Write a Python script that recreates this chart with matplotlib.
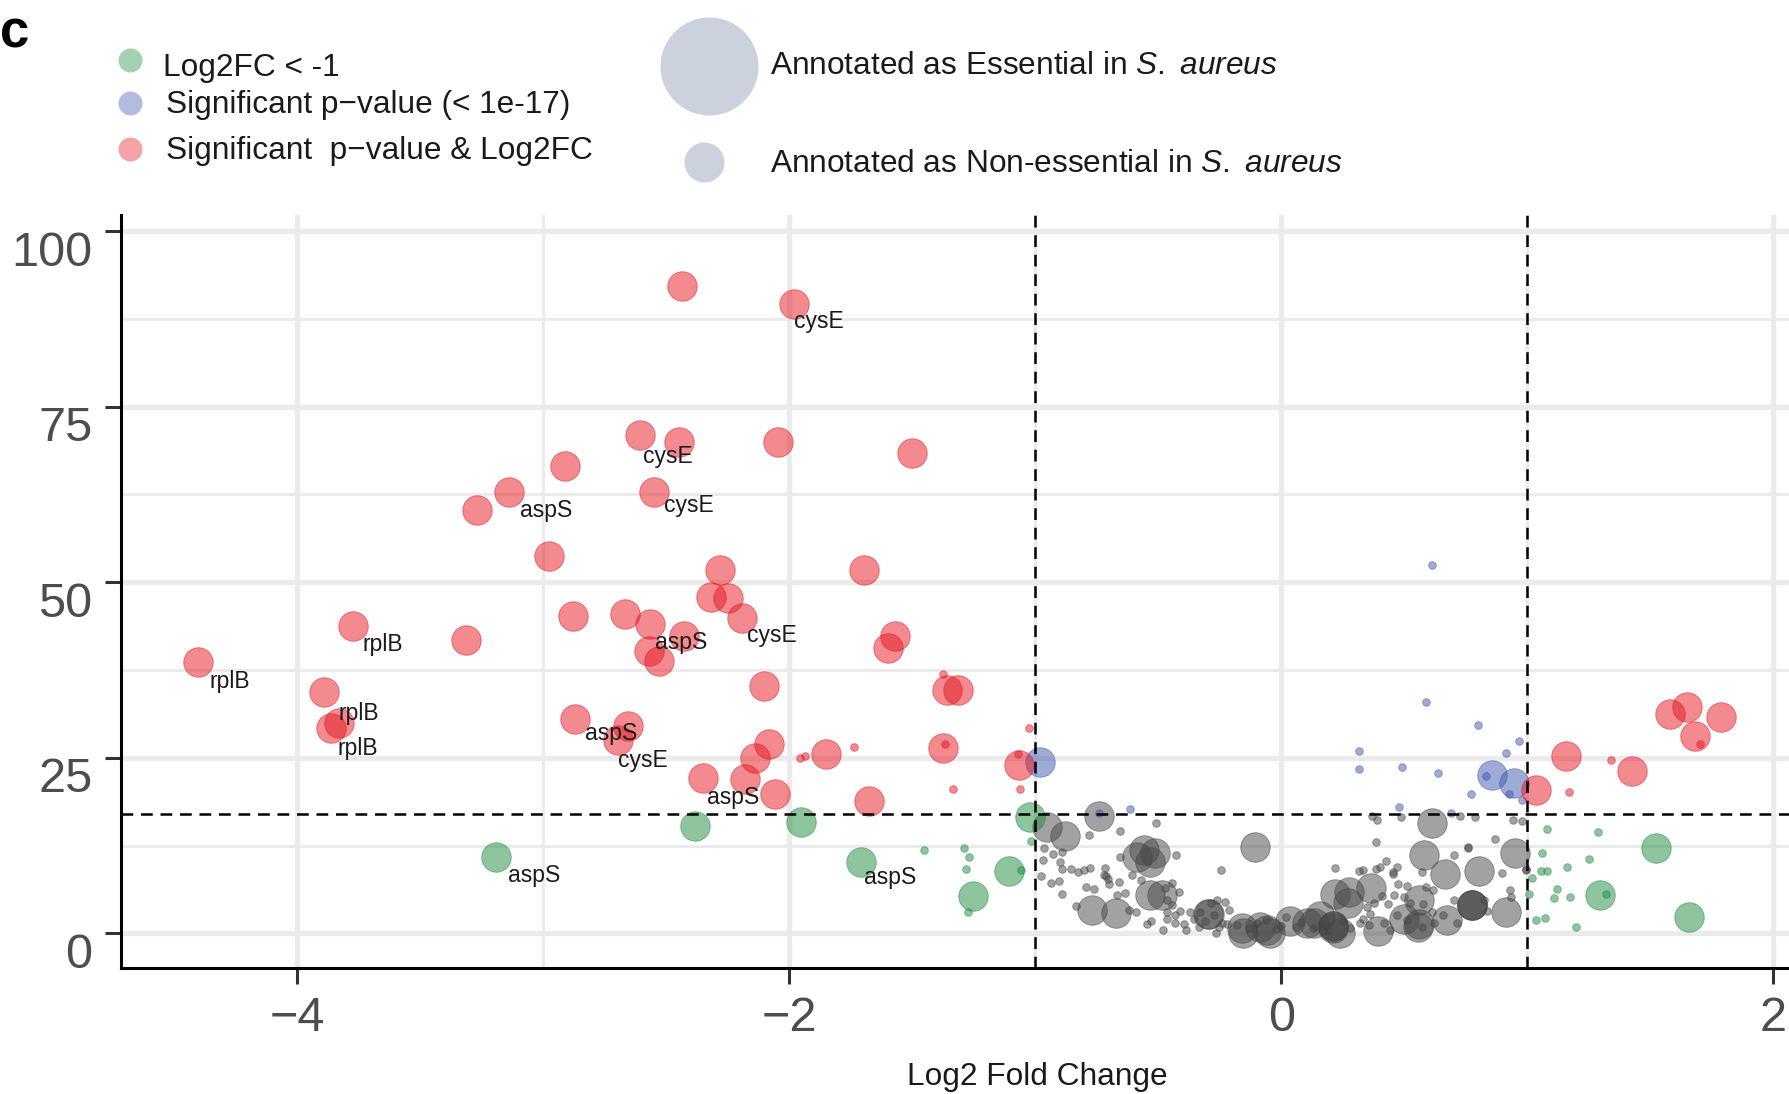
import matplotlib
matplotlib.use("Agg")
import matplotlib.pyplot as plt
from matplotlib.colors import to_rgb
from matplotlib.transforms import ScaledTranslation
import numpy as np

plt.rcParams['font.family'] = ['Liberation Sans', 'DejaVu Sans']
plt.rcParams['mathtext.fontset'] = 'custom'
plt.rcParams['mathtext.rm'] = 'Liberation Sans'
plt.rcParams['mathtext.it'] = 'Liberation Sans:italic'

# ---------------- data (Log2 fold change, -log10 p) ----------------
red_ess_x = [-2.434, -1.980, -2.604, -2.448, -2.044, -1.502, -2.912, -3.139, -3.268, -2.549,
             -2.977, -1.694, -2.280, -2.316, -2.247, -2.192, -2.880, -2.666, -2.567, -2.428,
             -2.570, -2.529, -1.569, -1.598, -2.100, -1.359, -1.315, -2.872, -2.655, -2.696,
             -2.080, -2.139, -1.849, -1.373, -2.350, -2.181, -2.059, -1.676, -1.064, -4.402,
             -3.773, -3.313, -3.889, -3.863, -3.830,
             1.159, 1.424, 1.037, 1.580, 1.648, 1.786, 1.683]
red_ess_y = [92.2, 89.6, 70.9, 69.9, 69.9, 68.4, 66.5, 62.9, 60.3, 62.8,
             53.8, 51.8, 51.8, 47.9, 47.8, 44.9, 45.2, 45.5, 44.0, 42.3,
             40.2, 38.8, 42.3, 40.6, 35.2, 34.6, 34.6, 30.5, 29.5, 27.5,
             27.0, 24.9, 25.6, 26.4, 22.1, 22.0, 19.9, 18.8, 24.0, 38.7,
             43.8, 41.8, 34.4, 29.3, 29.9,
             25.2, 23.1, 20.4, 31.2, 32.3, 30.8, 28.1]
red_non_x = [-1.373, -1.737, -1.955, -1.936, -1.365, -1.333, -1.071, -1.026, -1.060,
             1.340, 1.168, 1.703]
red_non_y = [37.0, 26.6, 24.9, 25.3, 27.0, 20.6, 25.6, 29.2, 20.6,
             24.7, 20.1, 27.0]

green_ess_x = [-3.193, -2.382, -1.953, -1.709, -1.108, -1.254, -1.020, 1.521, 1.294, 1.656]
green_ess_y = [10.9, 15.3, 15.9, 10.1, 8.9, 5.3, 16.5, 12.1, 5.4, 2.3]
green_non_x = [-1.450, -1.288, -1.270, -1.280, -1.056, -1.274, -1.015, 1.081, 1.288, 1.061,
               1.251, 1.160, 1.054, 1.079, 1.017, 1.120, 1.007, 1.110, 1.173, 1.071,
               1.036, 1.199, 1.320]
green_non_y = [11.8, 12.2, 10.9, 9.2, 9.0, 3.0, 13.1, 14.9, 14.4, 11.5,
               10.6, 9.5, 8.9, 8.9, 7.9, 6.3, 5.6, 5.0, 5.1, 2.2,
               1.9, 0.9, 5.6]

blue_ess_x = [-0.982, 0.858, 0.945]
blue_ess_y = [24.4, 22.6, 21.4]
blue_non_x = [-0.739, -0.613, 0.612, 0.589, 0.801, 0.967, 0.316, 0.914, 0.314, 0.489,
              0.638, 0.834, 0.925, 0.772, 0.978, 0.479, 0.690]
blue_non_y = [17.2, 17.7, 52.4, 33.0, 29.6, 27.4, 26.0, 25.7, 23.4, 23.7,
              22.8, 22.4, 19.9, 19.9, 19.0, 18.0, 17.2]

grey_ess_x = [-0.742, -0.952, -0.880, -0.556, -0.512, -0.532, -0.586, -0.107, -0.532, -0.485,
              -0.769, -0.670, -0.295, -0.160, -0.085, -0.058, 0.037, 0.104, 0.613, 0.580,
              0.665, 0.803, 0.948, 0.915, 0.777, 0.777, 0.777, 0.366, 0.276, 0.219,
              0.558, 0.673, 0.561, 0.497, 0.393, 0.212, 0.212, 0.212, 0.131, 0.273,
              0.240, -0.155, -0.047, 0.158, 0.557, -0.298]
grey_ess_y = [16.7, 15.2, 13.9, 11.8, 11.5, 10.2, 10.9, 12.3, 5.5, 5.5,
              3.3, 2.9, 2.7, 0.7, 0.9, 0.5, 1.7, 1.4, 15.7, 11.1,
              8.5, 8.9, 11.5, 3.0, 4.1, 4.1, 4.1, 6.4, 5.9, 5.6,
              4.8, 1.9, 1.3, 2.1, 0.3, 1.0, 1.0, 0.8, 1.4, 4.3,
              0.1, 0.1, 0.1, 2.4, 0.9, 2.8]
grey_non_x = [-0.511, -0.654, -0.780, -0.890, -0.965, -0.968, -0.900, -0.892, -0.854, -0.827,
              -0.800, -0.779, -0.718, -0.719, -0.703, -0.699, -0.659, -0.654, -0.608, -0.569,
              -0.429, -0.245, -0.976, -0.935, -0.902, -0.890, -0.792, -0.760, -0.835, -0.669,
              -0.635, -0.619, -0.589, -0.546, -0.529, -0.482, -0.464, -0.444, -0.415, -0.474,
              -0.443, -0.464, -0.464, -0.433, -0.431, -0.413, -0.397, -0.386, -0.370, -0.356,
              -0.336, -0.309, -0.329, -0.286, -0.261, -0.227, -0.272, -0.251, -0.264, -0.241,
              -0.214, -0.221, -0.926, -0.712,
              0.370, 0.391, 0.485, 0.728, 0.788, 0.941, 0.978, 0.383, 0.869, 0.760,
              0.703, 0.426, 0.219, 0.314, 0.334, 0.386, 0.402, 0.454, 0.470, 0.456,
              0.571, 0.896, 0.994, 0.474, 0.511, 0.589, 0.616, 0.930, 0.934, 0.460,
              0.409, 0.375, 0.432, 0.497, 0.524, 0.576, 0.612, 0.659, 0.700, 0.714,
              0.619, 0.571, 0.511, 0.470, 0.416, 0.443, 0.355, 0.334, 0.361, 0.348,
              0.321, 0.835, 0.822, 0.758, 0.993,
              -0.180, -0.130, -0.100, -0.020, 0.000, 0.060, 0.080, 0.130, 0.170, 0.190,
              0.250, 0.280, -0.060, 0.020]
grey_non_y = [15.7, 14.5, 14.0, 11.6, 12.1, 10.4, 10.1, 9.2, 9.1, 8.8,
              9.0, 9.3, 9.3, 8.3, 7.8, 7.0, 7.3, 10.9, 8.3, 7.6,
              11.1, 9.0, 8.1, 7.2, 7.4, 5.6, 6.6, 6.3, 3.9, 5.5,
              5.8, 3.3, 3.1, 1.3, 1.8, 0.4, 4.7, 7.2, 5.9, 6.4,
              4.1, 3.1, 2.0, 2.6, 1.4, 3.2, 1.3, 0.4, 3.1, 2.0,
              0.9, 1.7, 3.1, 4.3, 4.8, 4.5, 2.6, 0.9, 0.0, 1.4,
              3.3, 1.3, 11.3, 8.2,
              16.7, 16.1, 16.5, 16.7, 16.6, 16.2, 16.0, 13.0, 13.5, 12.2,
              11.1, 10.3, 9.3, 8.9, 9.0, 9.2, 9.5, 8.8, 9.5, 8.4,
              8.7, 8.6, 9.1, 7.0, 6.7, 6.6, 6.2, 6.1, 5.2, 5.5,
              5.3, 4.3, 4.2, 5.2, 4.3, 4.2, 3.1, 2.6, 4.8, 1.4,
              1.5, 0.9, 1.9, 2.6, 1.5, 0.5, 1.2, 2.1, 2.8, 3.8,
              1.5, 3.2, 4.7, 12.3, 9.0,
              1.2, 0.8, 1.5, 0.6, 1.1, 0.9, 1.6, 0.7, 1.2, 0.4,
              1.7, 0.8, 1.9, 2.3]

# gene labels: text, left x, vertical centre y (data units)
label_text = ['rplB', 'rplB', 'rplB', 'rplB', 'aspS', 'aspS', 'cysE', 'cysE', 'cysE',
              'cysE', 'aspS', 'aspS', 'cysE', 'aspS', 'aspS']
label_x = [-4.356, -3.734, -3.830, -3.835, -3.143, -3.094, -1.979, -2.593, -2.507,
           -2.170, -2.547, -2.830, -2.696, -2.333, -1.697]
label_y = [36.1, 41.3, 31.5, 26.6, 8.5, 60.5, 87.3, 68.1, 61.1,
           42.7, 41.7, 28.7, 24.9, 19.6, 8.1]

x_ticks = [-4, -2, 0, 2]
y_ticks = [0, 25, 50, 75, 100]
fc_cut = 1
p_cut = 17

legend1_labels = ['Log2FC < -1', 'Significant p\u2212value (< 1e-17)',
                  'Significant  p\u2212value & Log2FC']
legend2_labels = ['Annotated as Essential in $\\mathit{S.\\ aureus}$',
                  'Annotated as Non-essential in $\\mathit{S.\\ aureus}$']

# ---------------- styling ----------------
W, H = 1790, 1094
RED = '#E61620'
GREEN = '#1E8C41'
BLUE = '#4159B1'
GREY = '#474747'
ALPHA = 0.5


def rgba(c, a):
    r, g, b = to_rgb(c)
    return (r, g, b, a)


def px2pt(d):
    return d * 72.0 / 100.0


S_BIG = px2pt(29.5) ** 2
S_SMALL = px2pt(7.6) ** 2

fig = plt.figure(figsize=(W / 100, H / 100), dpi=100)
ax_left, ax_right, ax_top, ax_bottom = 121, 1953.8, 215, 967.7
ax = fig.add_axes([ax_left / W, (H - ax_bottom) / H, (ax_right - ax_left) / W,
                   (ax_bottom - ax_top) / H])
ax.set_xlim(-4.715, 2.733)
ax.set_ylim(-4.9, 102.3)

ax.set_axisbelow(True)
ax.set_xticks(x_ticks)
ax.set_yticks(y_ticks)
ax.set_xticks([-3, -1, 1], minor=True)
ax.set_yticks([12.5, 37.5, 62.5, 87.5], minor=True)
ax.grid(which='major', color='#EBEBEB', lw=3.8)
ax.grid(which='minor', color='#EBEBEB', lw=2.2)
ax.tick_params(which='minor', length=0)
ax.tick_params(which='major', length=11.5, width=2.2, color='#333333',
               labelsize=35, labelcolor='#4D4D4D')
ax.tick_params(axis='x', pad=9)
ax.tick_params(axis='y', pad=9)
# y tick labels sit a little below their ticks in the original
shift = ScaledTranslation(0, -17 / 100, fig.dpi_scale_trans)
for lab in ax.get_yticklabels():
    lab.set_transform(lab.get_transform() + shift)
for s in ['top', 'right']:
    ax.spines[s].set_visible(False)
for s in ['left', 'bottom']:
    ax.spines[s].set_linewidth(2.2)
    ax.spines[s].set_color('black')


def draw(xs, ys, color, size):
    c = rgba(color, ALPHA)
    ax.scatter(xs, ys, s=size, facecolors=[c], edgecolors=[c], linewidths=0.7, zorder=2)


draw(grey_ess_x, grey_ess_y, GREY, S_BIG)
draw(grey_non_x, grey_non_y, GREY, S_SMALL)
draw(green_ess_x, green_ess_y, GREEN, S_BIG)
draw(green_non_x, green_non_y, GREEN, S_SMALL)
draw(blue_ess_x, blue_ess_y, BLUE, S_BIG)
draw(blue_non_x, blue_non_y, BLUE, S_SMALL)
draw(red_ess_x, red_ess_y, RED, S_BIG)
draw(red_non_x, red_non_y, RED, S_SMALL)

for xv in (-fc_cut, fc_cut):
    ax.axvline(xv, color='black', lw=1.8, dashes=(4.7, 3.1), zorder=3)
ax.axhline(p_cut, color='black', lw=1.8, dashes=(4.7, 3.1), zorder=3)

for t, lx, ly in zip(label_text, label_x, label_y):
    ax.text(lx, ly - 1.15, t, fontsize=16.5, color='#1A1A1A', ha='left', va='baseline', zorder=4)

# axis title centred on panel
fig.text(((ax_left + ax_right) / 2) / W, 1 - 1085 / H, 'Log2 Fold Change',
         fontsize=22.8, ha='center', va='baseline', color='#1A1A1A')

# panel letter
fig.text(0.5 / W, 1 - 47.5 / H, 'c', fontsize=38, fontweight='bold', ha='left', va='baseline')

# ---------------- legends (drawn in a pixel-space overlay) ----------------
ov = fig.add_axes([0, 0, 1, 1], zorder=10)
ov.set_xlim(0, W)
ov.set_ylim(H, 0)
ov.axis('off')
ov.patch.set_alpha(0)

leg1_colors = [GREEN, BLUE, RED]
leg1_key_y = [60, 103.3, 149.3]
leg1_text_x = [163, 166, 166]
leg1_base_y = [76, 113.3, 159.3]
for col, ky, tx, by, lab in zip(leg1_colors, leg1_key_y, leg1_text_x, leg1_base_y, legend1_labels):
    ov.plot([130], [ky], 'o', ms=px2pt(24), mfc=rgba(col, 0.4), mec='none')
    ov.text(tx, by, lab, fontsize=22.8, ha='left', va='baseline', color='#1A1A1A')

leg2_key = [(709, 66, 98), (704.5, 161.7, 40)]
leg2_base_y = [74, 172]
for (kx, ky, kd), by, lab in zip(leg2_key, leg2_base_y, legend2_labels):
    ov.plot([kx], [ky], 'o', ms=px2pt(kd), mfc='#CCD1DE', mec='none')
    ov.text(769.6, by, lab, fontsize=22.8, ha='left', va='baseline', color='#1A1A1A')

fig.savefig('out.png', dpi=100)
